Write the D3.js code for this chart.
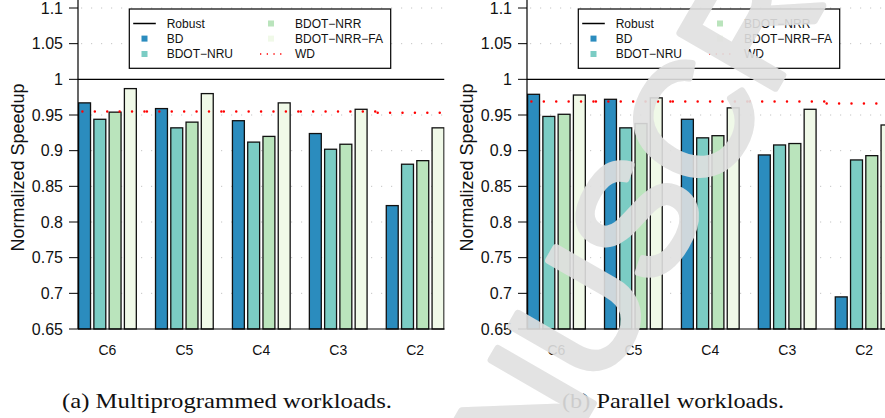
<!DOCTYPE html>
<html><head><meta charset="utf-8">
<script src="https://cdn.jsdelivr.net/npm/d3@7"></script>
<style>body{margin:0;background:#fff}svg{display:block}</style>
</head><body>
<svg id="c" width="885" height="418"></svg>
<script>
// ---- data ----
const categories = ["C6", "C5", "C4", "C3", "C2"];
const seriesNames = ["BD", "BDOT\u2212NRU", "BDOT\u2212NRR", "BDOT\u2212NRR\u2212FA"];
const multiBD  = [0.967, 0.959, 0.942, 0.924, 0.823];
const multiNRU = [0.944, 0.932, 0.912, 0.902, 0.881];
const multiNRR = [0.954, 0.940, 0.920, 0.909, 0.886];
const multiFA  = [0.987, 0.980, 0.967, 0.958, 0.932];
const multiWD  = [0.955, 0.955, 0.955, 0.955, 0.953];
const parBD  = [0.979, 0.972, 0.944, 0.894, 0.695];
const parNRU = [0.948, 0.932, 0.918, 0.908, 0.887];
const parNRR = [0.951, 0.938, 0.921, 0.910, 0.893];
const parFA  = [0.978, 0.974, 0.960, 0.958, 0.936];
const parWD  = [0.969, 0.969, 0.969, 0.969, 0.966];
const robustValue = 1.0;
const yTickValues = [0.65, 0.7, 0.75, 0.8, 0.85, 0.9, 0.95, 1.0, 1.05, 1.1];
const yTickLabels = ["0.65", "0.7", "0.75", "0.8", "0.85", "0.9", "0.95", "1", "1.05", "1.1"];
const captions = ["(a) Multiprogrammed workloads.", "(b) Parallel workloads."];
const yTitle = "Normalized Speedup";
const legendLabels = ["Robust", "BD", "BDOT\u2212NRU", "BDOT\u2212NRR", "BDOT\u2212NRR\u2212FA", "WD"];
const watermark = "MANUSCRIPT";

const colors = ["#2b8cbe", "#7bccc4", "#bae4bc", "#f0f9e8"];

const svg = d3.select("#c");
const y = d3.scaleLinear().domain([0.65, 1.1]).range([329, 8]);

const panels = [
  {ox: 78, right: 444.5, vals: [multiBD, multiNRU, multiNRR, multiFA], wd: multiWD, cap: captions[0], capX: 227, capW: 330},
  {ox: 527, right: 885, vals: [parBD, parNRU, parNRR, parFA], wd: parWD, cap: captions[1], capX: 673, capW: 222}
];

panels.forEach((p, pi) => {
  const g = svg.append("g");
  const clipId = "clip" + pi;
  svg.append("defs").append("clipPath").attr("id", clipId)
    .append("rect").attr("x", p.ox).attr("y", 0).attr("width", p.right - p.ox).attr("height", 418);

  const x0 = d3.scaleBand().domain(categories).range([p.ox, p.ox + 366.6])
    .paddingInner(0.234).paddingOuter(0).align(0);
  const x1 = d3.scaleBand().domain(seriesNames).range([0, x0.bandwidth()])
    .paddingInner(0.14).paddingOuter(0);
  const gap = x0.step() - x0.bandwidth();

  const plot = g.append("g").attr("clip-path", `url(#${clipId})`);

  // grid
  plot.selectAll("line.grid").data(yTickValues.filter(v => v !== 1.0 && v !== 0.65))
    .join("line").attr("class", "grid")
    .attr("x1", p.ox + 3).attr("x2", p.right)
    .attr("y1", d => y(d)).attr("y2", d => y(d))
    .attr("stroke", "#c4c4c4").attr("stroke-width", 1)
    .attr("stroke-dasharray", "1.2,8.8");

  // bars
  const rows = [];
  categories.forEach((c, ci) => seriesNames.forEach((s, si) => rows.push({c, s, si, v: p.vals[si][ci]})));
  plot.selectAll("rect.bar").data(rows).join("rect").attr("class", "bar")
    .attr("x", d => x0(d.c) + x1(d.s) + 0.6)
    .attr("y", d => y(d.v))
    .attr("width", x1.bandwidth() - 1.2)
    .attr("height", d => y(0.65) - y(d.v))
    .attr("fill", d => colors[d.si])
    .attr("stroke", "#111").attr("stroke-width", 1.3);

  // robust line
  plot.append("line").attr("x1", p.ox).attr("x2", p.right)
    .attr("y1", y(robustValue)).attr("y2", y(robustValue))
    .attr("stroke", "#000").attr("stroke-width", 1.3);

  // WD step segments
  plot.selectAll("line.wd").data(categories.map((c, i) => ({c, v: p.wd[i]})))
    .join("line").attr("class", "wd")
    .attr("x1", d => x0(d.c) - gap / 2 + 1)
    .attr("x2", d => x0(d.c) + x0.bandwidth() + gap / 2 + 1)
    .attr("y1", d => y(d.v)).attr("y2", d => y(d.v))
    .attr("stroke", "#ff0000").attr("stroke-width", 2.5)
    .attr("stroke-linecap", "round").attr("stroke-dasharray", "0.01,12.4");

  // bottom axis line
  g.append("line").attr("x1", p.ox).attr("x2", p.right)
    .attr("y1", y(0.65)).attr("y2", y(0.65)).attr("stroke", "#000").attr("stroke-width", 1.2);

  // y axis
  g.append("line").attr("x1", p.ox).attr("x2", p.ox).attr("y1", 0).attr("y2", y(0.65))
    .attr("stroke", "#000").attr("stroke-width", 1.2);
  g.selectAll("line.tick").data(yTickValues).join("line").attr("class", "tick")
    .attr("x1", p.ox - 9).attr("x2", p.ox).attr("y1", d => y(d)).attr("y2", d => y(d))
    .attr("stroke", "#000").attr("stroke-width", 1);
  g.selectAll("text.tl").data(yTickValues).join("text").attr("class", "tl")
    .attr("x", p.ox - 15).attr("y", d => y(d)).attr("dy", "0.36em")
    .attr("text-anchor", "end").attr("font-family", "Liberation Sans, Arial, sans-serif")
    .attr("font-size", 16).attr("fill", "#111")
    .text((d, i) => yTickLabels[i]);

  // y title
  g.append("text").attr("transform", `translate(${p.ox - 54},167.5) rotate(-90)`)
    .attr("text-anchor", "middle").attr("font-family", "Liberation Sans, Arial, sans-serif")
    .attr("font-size", 18).attr("fill", "#111").text(yTitle);

  // category labels
  g.selectAll("text.cat").data(categories).join("text").attr("class", "cat")
    .attr("x", d => x0(d) + x0.bandwidth() / 2).attr("y", 355)
    .attr("text-anchor", "middle").attr("font-family", "Liberation Sans, Arial, sans-serif")
    .attr("font-size", 14).attr("fill", "#111").text(d => d);

  // legend
  const lg = g.append("g");
  lg.append("rect").attr("x", p.ox + 51.3).attr("y", 9).attr("width", 261.4).attr("height", 59.3)
    .attr("fill", "#fff").attr("stroke", "#000").attr("stroke-width", 1.2);
  const rowsY = [23.5, 38.6, 54];
  const items = legendLabels.map((l, i) => ({l, i, col: i < 3 ? 0 : 1, row: i % 3}));
  items.forEach(it => {
    const sx = p.ox + (it.col === 0 ? 66.5 : 193);
    const tx = p.ox + (it.col === 0 ? 88.7 : 217);
    const yy = rowsY[it.row];
    if (it.l === "Robust") {
      lg.append("line").attr("x1", sx - 11.3).attr("x2", sx + 11.3).attr("y1", yy).attr("y2", yy)
        .attr("stroke", "#000").attr("stroke-width", 1.5);
    } else if (it.l === "WD") {
      lg.append("line").attr("x1", sx - 11).attr("x2", sx + 11).attr("y1", yy).attr("y2", yy)
        .attr("stroke", "#ff0000").attr("stroke-width", 1.3).attr("stroke-dasharray", "1.3,5.4");
    } else {
      const si = seriesNames.indexOf(it.l);
      lg.append("rect").attr("x", sx - 3).attr("y", yy - 3).attr("width", 6).attr("height", 6)
        .attr("fill", colors[si]);
    }
    lg.append("text").attr("x", tx).attr("y", yy).attr("dy", "0.36em")
      .attr("font-family", "Liberation Sans, Arial, sans-serif").attr("font-size", 12)
      .attr("fill", "#111").text(it.l);
  });

  // caption
  svg.append("text").attr("x", p.capX).attr("y", 408).attr("text-anchor", "middle")
    .attr("font-family", "Liberation Serif, 'Times New Roman', serif").attr("font-size", 22)
    .attr("textLength", p.capW).attr("lengthAdjust", "spacingAndGlyphs")
    .attr("fill", "#111").text(p.cap);
});

// watermark (publisher overlay, partly outside the crop as in the reference)
svg.append("text").attr("transform", "translate(422,700) rotate(-60)")
  .attr("font-family", "Liberation Sans, Arial, sans-serif").attr("font-size", 160)
  .attr("fill", "#e0e0e0").attr("stroke", "#e0e0e0").attr("stroke-width", 7)
  .attr("stroke-linejoin", "round").attr("opacity", 0.9).text(watermark);
</script>
</body></html>
